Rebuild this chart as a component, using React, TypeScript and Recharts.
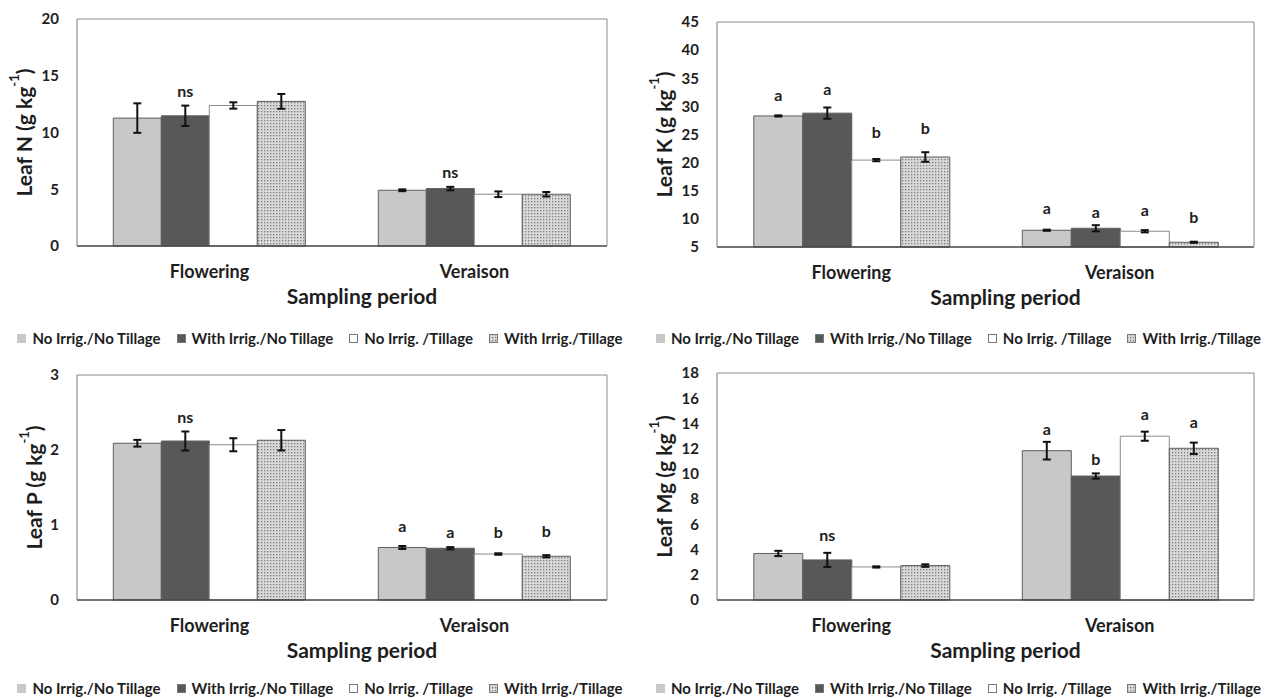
import React from 'react';
import { BarChart, Bar, XAxis, YAxis, ErrorBar, LabelList, Legend } from 'recharts';

const categories = ['Flowering', 'Veraison'];
const seriesNames = ['No Irrig./No Tillage', 'With Irrig./No Tillage', 'No Irrig. /Tillage', 'With Irrig./Tillage'];

// each inner array: [Flowering, Veraison] for one series
const leafNMean = [[11.27, 4.91], [11.47, 5.06], [12.38, 4.56], [12.74, 4.56]];
const leafNErr = [[1.3, 0.08], [0.9, 0.15], [0.28, 0.25], [0.65, 0.2]];
const leafNLetters = [['', ''], ['ns', 'ns'], ['', ''], ['', '']];
const leafNLetterPos = [[0, 0], [13.7, 6.53], [0, 0], [0, 0]];
const leafNTicks = [0, 5, 10, 15, 20];

const leafKMean = [[28.3, 7.98], [28.8, 8.33], [20.45, 7.8], [21.0, 5.84]];
const leafKErr = [[0.1, 0.1], [1.0, 0.55], [0.2, 0.2], [0.85, 0.1]];
const leafKLetters = [['a', 'a'], ['a', 'a'], ['b', 'a'], ['b', 'b']];
const leafKLetterPos = [[32.2, 12.0], [33.2, 11.3], [25.5, 11.7], [26.3, 10.35]];
const leafKTicks = [5, 10, 15, 20, 25, 30, 35, 40, 45];

const leafPMean = [[2.09, 0.7], [2.12, 0.69], [2.07, 0.613], [2.13, 0.583]];
const leafPErr = [[0.045, 0.02], [0.127, 0.015], [0.087, 0.01], [0.136, 0.015]];
const leafPLetters = [['', 'a'], ['ns', 'a'], ['', 'b'], ['', 'b']];
const leafPLetterPos = [[0, 1.0], [2.45, 0.92], [0, 0.907], [0, 0.93]];
const leafPTicks = [0, 1, 2, 3];

const leafMgMean = [[3.69, 11.84], [3.18, 9.83], [2.62, 12.99], [2.73, 12.03]];
const leafMgErr = [[0.21, 0.7], [0.56, 0.21], [0.05, 0.36], [0.1, 0.45]];
const leafMgLetters = [['', 'a'], ['ns', 'b'], ['', 'a'], ['', 'a']];
const leafMgLetterPos = [[0, 13.62], [5.22, 11.24], [0, 14.76], [0, 14.15]];
const leafMgTicks = [0, 2, 4, 6, 8, 10, 12, 14, 16, 18];

const FONT = 'Lato, "Open Sans", sans-serif';
const TXT = '#1e1e1e';

function buildRows(mean: number[][], err: number[][], letters: string[][], pos: number[][]) {
  return categories.map((c, ci) => {
    const row: any = { cat: c };
    for (let s = 0; s < 4; s++) {
      row['v' + s] = mean[s][ci];
      row['e' + s] = err[s][ci];
      row['l' + s] = letters[s][ci];
      row['p' + s] = pos[s][ci];
    }
    return row;
  });
}

type PanelProps = {
  id: string;
  rows: any[];
  ticks: number[];
  element: string;
  left: number;
  top: number;
  ml: number;
  mr: number;
  plotTop: number;
  plotBottom: number;
  titleDx: number;
  legendShift: number;
};

const H = 350;
const W = 635;
const LEG_H = 20;
const MB = 2;

function Panel(p: PanelProps) {
  const fills = ['#c8c8c8', '#585858', '#ffffff', `url(#${p.id}dots)`];
  const domain: [number, number] = [p.ticks[0], p.ticks[p.ticks.length - 1]];
  const xh = H - MB - LEG_H - p.plotBottom;

  const letterRenderer = (s: number) => (props: any) => {
    const vb = props.viewBox || props;
    const { x, y, width, height } = vb;
    const idx = props.index;
    const row = p.rows[idx];
    if (!row || !row['l' + s]) return null;
    const v = row['v' + s];
    const ppu = height / (v - domain[0]);
    const ty = y - (row['p' + s] - v) * ppu;
    return (
      <text x={x + width / 2} y={ty} textAnchor="middle" dominantBaseline="central"
        fontFamily={FONT} fontWeight={700} fontSize={16} fill={TXT}>
        {row['l' + s]}
      </text>
    );
  };

  const yTitle = (props: any) => {
    const vb = props.viewBox;
    const cx = vb.x + p.titleDx;
    const cy = vb.y + vb.height / 2;
    return (
      <text x={cx} y={cy} transform={`rotate(-90 ${cx} ${cy})`} textAnchor="middle" dominantBaseline="central"
        fontFamily={FONT} fontWeight={700} fontSize={21} fill={TXT}>
        {`Leaf ${p.element} (g kg`}
        <tspan fontSize={13} dy={-9}>-1</tspan>
        <tspan fontSize={21} dy={9}>)</tspan>
      </text>
    );
  };

  const xTitle = (props: any) => {
    const vb = props.viewBox;
    return (
      <text x={vb.x + vb.width / 2 + 20} y={vb.y + 49} textAnchor="middle" dominantBaseline="central"
        fontFamily={FONT} fontWeight={700} fontSize={21} fill={TXT}>
        Sampling period
      </text>
    );
  };

  const legend = () => (
    <div style={{ display: 'flex', justifyContent: 'center', fontFamily: FONT, fontWeight: 700, fontSize: 15, color: TXT, whiteSpace: 'nowrap', height: LEG_H, alignItems: 'center', paddingLeft: p.legendShift }}>
      {seriesNames.map((n, i) => (
        <span key={i} style={{ display: 'inline-flex', alignItems: 'center', marginRight: i < 3 ? 16 : 0 }}>
          <svg width={9} height={9} style={{ marginRight: 6 }}>
            <rect x={0.5} y={0.5} width={8} height={8} fill={fills[i]} stroke={i === 0 ? '#c8c8c8' : '#777'} />
          </svg>
          {n}
        </span>
      ))}
    </div>
  );

  return (
    <div style={{ position: 'absolute', left: p.left, top: p.top }}>
      <BarChart width={W} height={H} data={p.rows}
        margin={{ top: p.plotTop - 1, right: p.mr - 1, left: p.ml, bottom: MB }}
        barCategoryGap="13.7%" barGap={0}>
        <defs>
          <pattern id={`${p.id}dots`} width={3} height={3} patternUnits="userSpaceOnUse">
            <rect width={3} height={3} fill="#d9d9d9" />
            <rect width={1.3} height={1.3} fill="#7e7e7e" />
          </pattern>
        </defs>
        <XAxis xAxisId="b" dataKey="cat" height={xh} tickSize={0} tickMargin={19}
          axisLine={{ stroke: '#444', strokeWidth: 1.3 }}
          tick={{ fill: TXT, fontSize: 18, fontWeight: 700, fontFamily: FONT }}
          label={{ content: xTitle }} />
        <XAxis xAxisId="t" dataKey="cat" orientation="top" height={1} tick={false} tickLine={false}
          axisLine={{ stroke: '#8a8a8a' }} />
        <YAxis yAxisId="l" domain={domain} ticks={p.ticks} interval={0} width={77} tickSize={0} tickMargin={18}
          axisLine={{ stroke: '#7a7a7a' }}
          tick={{ fill: TXT, fontSize: 15, fontWeight: 700, fontFamily: FONT }}
          label={{ content: yTitle }} />
        <YAxis yAxisId="r" orientation="right" domain={domain} width={1} tick={false} tickLine={false}
          axisLine={{ stroke: '#8a8a8a' }} />
        <Legend verticalAlign="bottom" height={LEG_H} content={legend} />
        {[0, 1, 2, 3].map((s) => (
          <Bar key={s} xAxisId="b" yAxisId="l" dataKey={'v' + s} name={seriesNames[s]} fill={fills[s]}
            stroke={s === 2 ? '#8a8a8a' : '#5e5e5e'} strokeWidth={1} isAnimationActive={false}>
            <ErrorBar dataKey={'e' + s} width={4} strokeWidth={2} stroke="#111" direction="y" />
            <LabelList dataKey={'l' + s} content={letterRenderer(s)} />
          </Bar>
        ))}
      </BarChart>
    </div>
  );
}

const nRows = buildRows(leafNMean, leafNErr, leafNLetters, leafNLetterPos);
const kRows = buildRows(leafKMean, leafKErr, leafKLetters, leafKLetterPos);
const pRows = buildRows(leafPMean, leafPErr, leafPLetters, leafPLetterPos);
const mgRows = buildRows(leafMgMean, leafMgErr, leafMgLetters, leafMgLetterPos);

export default function App() {
  return (
    <div style={{ position: 'absolute', left: 0, top: 0, width: 1270, height: 698, background: '#fff', overflow: 'hidden' }}>
      <Panel id="n" rows={nRows} ticks={leafNTicks} element="N" left={0} top={0} ml={0} mr={28} plotTop={19} plotBottom={246} titleDx={23} legendShift={32} />
      <Panel id="k" rows={kRows} ticks={leafKTicks} element="K" left={635} top={0} ml={5} mr={16} plotTop={22} plotBottom={247} titleDx={23} legendShift={22} />
      <Panel id="p" rows={pRows} ticks={leafPTicks} element="P" left={0} top={350} ml={0} mr={28} plotTop={25} plotBottom={250} titleDx={33} legendShift={32} />
      <Panel id="mg" rows={mgRows} ticks={leafMgTicks} element="Mg" left={635} top={350} ml={5} mr={16} plotTop={23} plotBottom={250} titleDx={23} legendShift={22} />
    </div>
  );
}
